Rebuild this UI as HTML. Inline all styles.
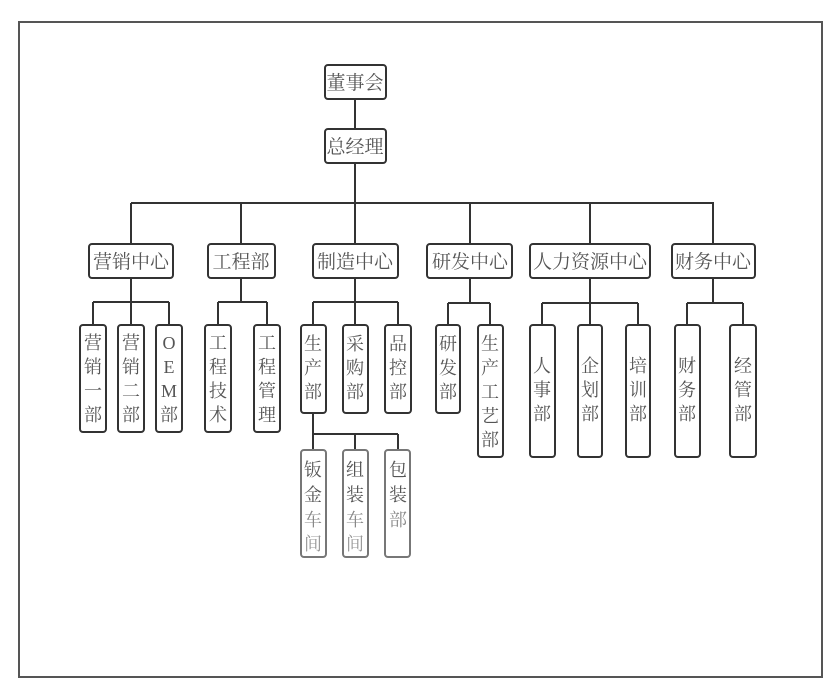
<!DOCTYPE html>
<html><head><meta charset="utf-8"><style>
html,body{margin:0;padding:0;background:#fff;}
svg{display:block;}
text{font-family:"Liberation Serif","Noto Serif CJK SC","Noto Sans CJK SC",serif;fill:#555;font-size:19px;text-anchor:middle;}
.v{font-size:18px;}
rect{fill:#fff;stroke:#333;stroke-width:2;}
line{stroke:#333;stroke-width:2;}
</style></head><body>
<svg width="829" height="691" viewBox="0 0 829 691" xmlns="http://www.w3.org/2000/svg">
<rect x="19" y="22" width="803" height="655" rx="0" style="stroke:#555;stroke-width:2;fill:#fff"/>
<!-- trunk -->
<line x1="355" y1="99" x2="355" y2="129"/>
<line x1="355" y1="163" x2="355" y2="244"/>
<line x1="131" y1="203" x2="714" y2="203"/>
<line x1="131" y1="203" x2="131" y2="244"/>
<line x1="241" y1="203" x2="241" y2="244"/>
<line x1="470" y1="203" x2="470" y2="244"/>
<line x1="590" y1="203" x2="590" y2="244"/>
<line x1="713" y1="203" x2="713" y2="244"/>
<!-- sub buses -->
<line x1="131" y1="278" x2="131" y2="302"/><line x1="93" y1="302" x2="169" y2="302"/>
<line x1="93" y1="302" x2="93" y2="325"/><line x1="131" y1="302" x2="131" y2="325"/><line x1="169" y1="302" x2="169" y2="325"/>
<line x1="241" y1="278" x2="241" y2="302"/><line x1="218" y1="302" x2="267" y2="302"/>
<line x1="218" y1="302" x2="218" y2="325"/><line x1="267" y1="302" x2="267" y2="325"/>
<line x1="355" y1="278" x2="355" y2="325"/><line x1="313" y1="302" x2="398" y2="302"/>
<line x1="313" y1="302" x2="313" y2="325"/><line x1="398" y1="302" x2="398" y2="325"/>
<line x1="470" y1="278" x2="470" y2="303"/><line x1="448" y1="303" x2="490" y2="303"/>
<line x1="448" y1="303" x2="448" y2="325"/><line x1="490" y1="303" x2="490" y2="325"/>
<line x1="590" y1="278" x2="590" y2="325"/><line x1="542" y1="303" x2="638" y2="303"/>
<line x1="542" y1="303" x2="542" y2="325"/><line x1="638" y1="303" x2="638" y2="325"/>
<line x1="713" y1="278" x2="713" y2="303"/><line x1="687" y1="303" x2="743" y2="303"/>
<line x1="687" y1="303" x2="687" y2="325"/><line x1="743" y1="303" x2="743" y2="325"/>
<!-- third level -->
<line x1="313" y1="413" x2="313" y2="450"/><line x1="313" y1="434" x2="398" y2="434"/>
<line x1="355" y1="434" x2="355" y2="450"/><line x1="398" y1="434" x2="398" y2="450"/>

<!-- top boxes -->
<rect x="325" y="65" width="61" height="34" rx="3"/><text x="355" y="89">董事会</text>
<rect x="325" y="129" width="61" height="34" rx="3"/><text x="355" y="153">总经理</text>
<!-- centers -->
<rect x="89" y="244" width="84" height="34" rx="3"/><text x="131" y="268">营销中心</text>
<rect x="208" y="244" width="67" height="34" rx="3"/><text x="241" y="268">工程部</text>
<rect x="313" y="244" width="85" height="34" rx="3"/><text x="355" y="268">制造中心</text>
<rect x="427" y="244" width="85" height="34" rx="3"/><text x="470" y="268">研发中心</text>
<rect x="530" y="244" width="120" height="34" rx="3"/><text x="590" y="268">人力资源中心</text>
<rect x="672" y="244" width="83" height="34" rx="3"/><text x="713" y="268">财务中心</text>

<!-- vertical boxes -->
<g class="v">
<rect x="80" y="325" width="26" height="107" rx="3"/>
<text class="v" x="93" y="349">营</text><text class="v" x="93" y="373">销</text><text class="v" x="93" y="397">一</text><text class="v" x="93" y="421">部</text>
<rect x="118" y="325" width="26" height="107" rx="3"/>
<text class="v" x="131" y="349">营</text><text class="v" x="131" y="373">销</text><text class="v" x="131" y="397">二</text><text class="v" x="131" y="421">部</text>
<rect x="156" y="325" width="26" height="107" rx="3"/>
<text class="v" x="169" y="349">O</text><text class="v" x="169" y="373">E</text><text class="v" x="169" y="397">M</text><text class="v" x="169" y="421">部</text>
<rect x="205" y="325" width="26" height="107" rx="3"/>
<text class="v" x="218" y="349">工</text><text class="v" x="218" y="373">程</text><text class="v" x="218" y="397">技</text><text class="v" x="218" y="421">术</text>
<rect x="254" y="325" width="26" height="107" rx="3"/>
<text class="v" x="267" y="349">工</text><text class="v" x="267" y="373">程</text><text class="v" x="267" y="397">管</text><text class="v" x="267" y="421">理</text>

<rect x="301" y="325" width="25" height="88" rx="3"/>
<text class="v" x="313" y="350">生</text><text class="v" x="313" y="374">产</text><text class="v" x="313" y="398">部</text>
<rect x="343" y="325" width="25" height="88" rx="3"/>
<text class="v" x="355" y="350">采</text><text class="v" x="355" y="374">购</text><text class="v" x="355" y="398">部</text>
<rect x="385" y="325" width="26" height="88" rx="3"/>
<text class="v" x="398" y="350">品</text><text class="v" x="398" y="374">控</text><text class="v" x="398" y="398">部</text>

<rect x="301" y="450" width="25" height="107" rx="3" style="stroke:#777"/>
<text class="v" x="313" y="476">钣</text><text class="v" x="313" y="501">金</text><text class="v" x="313" y="526" style="fill:#888">车</text><text class="v" x="313" y="550" style="fill:#999">间</text>
<rect x="343" y="450" width="25" height="107" rx="3" style="stroke:#777"/>
<text class="v" x="355" y="476">组</text><text class="v" x="355" y="501">装</text><text class="v" x="355" y="526" style="fill:#888">车</text><text class="v" x="355" y="550" style="fill:#999">间</text>
<rect x="385" y="450" width="25" height="107" rx="3" style="stroke:#777"/>
<text class="v" x="398" y="476">包</text><text class="v" x="398" y="501">装</text><text class="v" x="398" y="526" style="fill:#888">部</text>

<rect x="436" y="325" width="24" height="88" rx="3"/>
<text class="v" x="448" y="350">研</text><text class="v" x="448" y="374">发</text><text class="v" x="448" y="398">部</text>
<rect x="478" y="325" width="25" height="132" rx="3"/>
<text class="v" x="490" y="350">生</text><text class="v" x="490" y="374">产</text><text class="v" x="490" y="398">工</text><text class="v" x="490" y="422">艺</text><text class="v" x="490" y="446">部</text>

<rect x="530" y="325" width="25" height="132" rx="3"/>
<text class="v" x="542" y="372">人</text><text class="v" x="542" y="396">事</text><text class="v" x="542" y="420">部</text>
<rect x="578" y="325" width="24" height="132" rx="3"/>
<text class="v" x="590" y="372">企</text><text class="v" x="590" y="396">划</text><text class="v" x="590" y="420">部</text>
<rect x="626" y="325" width="24" height="132" rx="3"/>
<text class="v" x="638" y="372">培</text><text class="v" x="638" y="396">训</text><text class="v" x="638" y="420">部</text>

<rect x="675" y="325" width="25" height="132" rx="3"/>
<text class="v" x="687" y="372">财</text><text class="v" x="687" y="396">务</text><text class="v" x="687" y="420">部</text>
<rect x="730" y="325" width="26" height="132" rx="3"/>
<text class="v" x="743" y="372">经</text><text class="v" x="743" y="396">管</text><text class="v" x="743" y="420">部</text>
</g>
</svg>
</body></html>
